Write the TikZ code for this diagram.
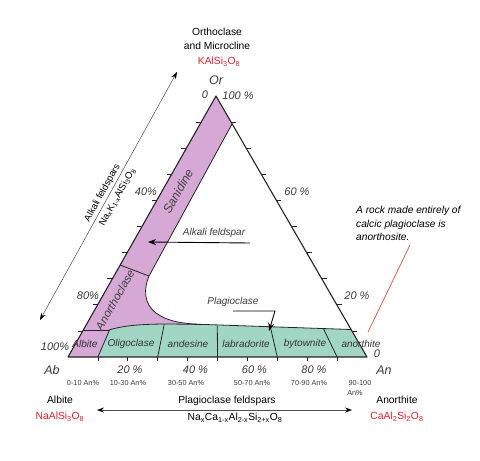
\documentclass[tikz,border=0pt]{standalone}
\usepackage{fontspec}
\setmainfont{Liberation Sans}
\usetikzlibrary{arrows.meta}
\definecolor{pinkf}{RGB}{214,168,214}
\definecolor{greenf}{RGB}{162,214,196}
\definecolor{edgec}{RGB}{40,35,40}
\definecolor{redf}{RGB}{232,30,40}
\definecolor{redl}{RGB}{225,95,75}
\definecolor{labg}{RGB}{60,60,60}
\tikzset{
  edgeline/.style={draw=edgec, line width=1.1pt, line join=round},
  bound/.style={draw=edgec, line width=0.8pt, line join=round},
  tickm/.style={draw=edgec, line width=0.7pt},
  pct/.style={font=\fontsize{11}{13}\selectfont\itshape, text=labg, inner sep=0},
  corner/.style={font=\fontsize{12.5}{14}\selectfont\itshape, text=labg, inner sep=0},
  cell/.style={font=\fontsize{10}{12}\selectfont\itshape, text=black!80, inner sep=0},
  band/.style={font=\fontsize{11.5}{13}\selectfont\itshape, text=black!75, inner sep=0, rotate=60.4},
  sub/.style={font=\fontsize{7.3}{9}\selectfont, text=labg, inner sep=0},
  title/.style={font=\fontsize{10.3}{12}\selectfont, text=black, inner sep=0},
  formula/.style={font=\fontsize{10.3}{12}\selectfont, text=redf, inner sep=0},
  note/.style={font=\fontsize{10.2}{13.5}\selectfont\itshape, text=black, inner sep=0, align=left},
  callout/.style={font=\fontsize{10}{12}\selectfont\itshape, text=black!75, inner sep=0},
  dblarrow/.style={draw=black!70, line width=0.5pt, {Stealth[length=7pt,width=5pt,black]}-{Stealth[length=7pt,width=5pt,black]}},
  onearrow/.style={draw=black, line width=0.9pt, -{Stealth[length=8pt,width=6pt]}},
}
\begin{document}
\begin{tikzpicture}[x=1pt,y=-1pt]
\useasboundingbox (0,0) rectangle (480,461);
\fill[white] (0,0) rectangle (480,461);

% corners
\coordinate (Ab) at (68,357);
\coordinate (An) at (367,357);
\coordinate (Or) at (216,96);

% pink alkali region
\fill[pinkf] (Ab) -- (Or) -- (232,124) -- (149,276)
  .. controls (144,288) and (143,303) .. (156,313)
  .. controls (168,322) and (185,324) .. (205,324.5)
  -- (170,324) .. controls (145,324) and (125,325) .. (109,330)
  -- (98,357) -- cycle;
% green plagioclase band
\fill[greenf] (98,357) -- (109,330) .. controls (125,325) and (145,324) .. (170,324)
  -- (205,324.5) -- (351,329.5) -- (An) -- cycle;

% boundaries
\draw[bound] (232,124) -- (149,276)
  .. controls (144,288) and (143,303) .. (156,313)
  .. controls (168,322) and (185,324) .. (205,324.5);
\draw[bound] (109,330) .. controls (125,325) and (145,324) .. (170,324)
  -- (205,324.5) -- (351,329.5);
\draw[bound] (83.3,330) -- (109,330);
\draw[bound] (120,265) -- (149,276);
\draw[bound] (97.9,357) -- (109.5,330);
\draw[bound] (157.7,357) -- (164.2,324.3);
\draw[bound] (217.5,357) -- (217.3,325.5);
\draw[bound] (277.3,357) -- (270.5,327.5);
\draw[bound] (337.1,357) -- (323.6,329);

% triangle
\draw[edgeline] (Ab) -- (Or) -- (An) -- cycle;

% ticks
\foreach \k in {1,...,9} {
  \draw[tickm] ({68+29.9*\k},357) -- ++(0,4);
  \draw[tickm] ({68+14.8*\k},{357-26.1*\k}) -- ++(-5,0);
  \draw[tickm] ({367-15.1*\k},{357-26.1*\k}) -- ++(5,0);
}

% band labels
\node[band, font=\fontsize{12.5}{14}\selectfont\itshape] (san) at (178,191) {Sanidine};
\node[band] (ano) at (115,300) {Anorthoclase};

\node[cell] (alb) at (85,344) {Albite};
\node[cell] (oli) at (131,344) {Oligoclase};
\node[cell] (and) at (188,344) {andesine};
\node[cell] (lab) at (246,344) {labradorite};
\node[cell] (byt) at (305,344) {bytownite};
\node[cell] (ant) at (361,344) {anorthite};

% corner labels
\node[corner] (orl) at (216,80) {Or};
\node[corner] (abl) at (52,370) {Ab};
\node[corner] (anl) at (384,370) {An};

% percentages
\node[pct] (p0t) at (205,95) {0};
\node[pct] (p100t) at (238,96) {100 \%};
\node[pct] (p40l) at (146,192) {40\%};
\node[pct] (p80l) at (88,296) {80\%};
\node[pct] (p100l) at (55,347) {100\%};
\node[pct] (p60r) at (297,192) {60 \%};
\node[pct] (p20r) at (357,296) {20 \%};
\node[pct] (p0r) at (377,354) {0};
\node[pct] (p20b) at (130,370) {20 \%};
\node[pct] (p40b) at (195.5,370) {40 \%};
\node[pct] (p60b) at (254.5,370) {60 \%};
\node[pct] (p80b) at (314,370) {80 \%};

% sub-ranges
\node[sub] (s1) at (83,383) {0-10 An\%};
\node[sub] (s2) at (128,383) {10-30 An\%};
\node[sub] (s3) at (186,383) {30-50 An\%};
\node[sub] (s4) at (252,383) {50-70 An\%};
\node[sub] (s5) at (309,383) {70-90 An\%};
\node[sub] (s6) at (360,383) {90-100};
\node[sub] (s6b) at (355,393) {An\%};

% top titles
\node[title] (orth) at (217,32) {Orthoclase};
\node[title] (micr) at (217,46) {and Microcline};
\node[formula] (kf) at (219,62) {KAlSi\textsubscript{3}O\textsubscript{8}};

% bottom end members
\node[title] (albt) at (60,400) {Albite};
\node[formula] (albf) at (60,417) {NaAlSi\textsubscript{3}O\textsubscript{8}};
\node[title] (anot) at (397,400) {Anorthite};
\node[formula] (anof) at (397,417) {CaAl\textsubscript{2}Si\textsubscript{2}O\textsubscript{8}};

% plagioclase feldspars arrow
\coordinate (pa1) at (97,410);
\coordinate (pa2) at (352,410);
\draw[dblarrow] (pa1) -- (pa2);
\node[title] (plt) at (227,401) {Plagioclase feldspars};
\node[title] (plf) at (235,418) {Na\textsubscript{x}Ca\textsubscript{1-x}Al\textsubscript{2-x}Si\textsubscript{2+x}O\textsubscript{8}};

% alkali feldspars arrow
\coordinate (aa1) at (40,320);
\coordinate (aa2) at (177,72);
\draw[dblarrow] (aa1) -- (aa2);
\node[title, rotate=61.1, font=\fontsize{9.5}{11}\selectfont] (akt) at (102.5,193) {Alkali feldspars};
\node[title, rotate=61.1, font=\fontsize{9.5}{11}\selectfont] (akf) at (117.5,197) {Na\textsubscript{x}K\textsubscript{1-x}AlSi\textsubscript{3}O\textsubscript{8}};

% callouts
\node[callout] (akl) at (214,233) {Alkali feldspar};
\coordinate (akc1) at (250,243);
\coordinate (akc2) at (148,242);
\draw[onearrow] (akc1) -- (akc2);

\node[callout] (pll) at (233,302) {Plagioclase};
\coordinate (plc1) at (233,311);
\coordinate (plc2) at (275,311);
\coordinate (plc3) at (269,331);
\draw[onearrow] (plc1) -- (plc2) -- (plc3);

% note
\node[note, anchor=north west] (nt) at (356,206) {A rock made entirely of\\calcic plagioclase is\\anorthosite.};
\coordinate (rl1) at (410,245);
\coordinate (rl2) at (368,332);
\draw[redl, line width=0.8pt] (rl1) -- (rl2);
\end{tikzpicture}
\end{document}
